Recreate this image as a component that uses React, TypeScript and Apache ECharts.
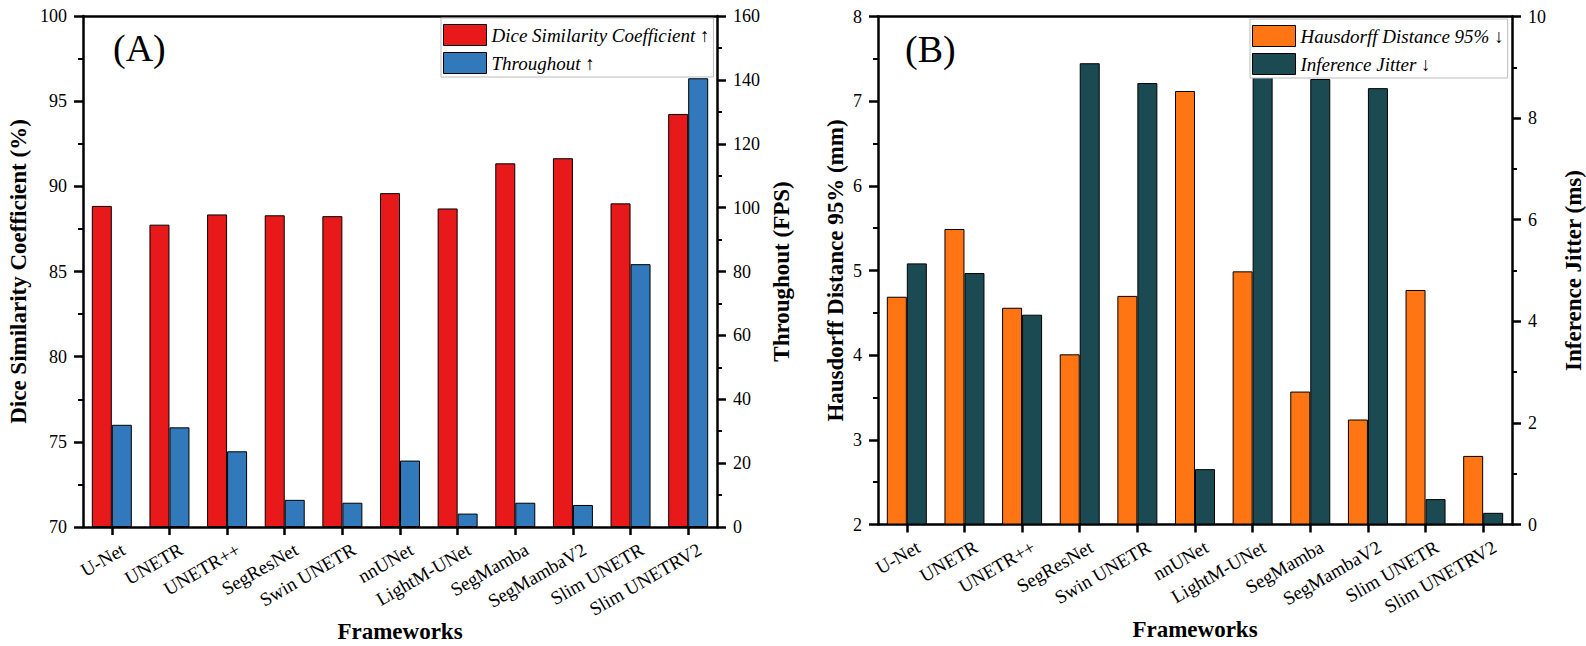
import React, { useEffect, useRef } from 'react';
import * as echarts from 'echarts';

const categories = ['U-Net', 'UNETR', 'UNETR++', 'SegResNet', 'Swin UNETR', 'nnUNet', 'LightM-UNet', 'SegMamba', 'SegMambaV2', 'Slim UNETR', 'Slim UNETRV2'];
const diceValues = [88.85, 87.75, 88.35, 88.3, 88.25, 89.6, 88.7, 91.35, 91.65, 89.0, 94.25];
const throughputValues = [32.0, 31.2, 23.7, 8.5, 7.6, 20.8, 4.2, 7.6, 6.9, 82.3, 140.5];
const hd95Values = [4.69, 5.49, 4.56, 4.01, 4.7, 7.12, 4.99, 3.57, 3.24, 4.77, 2.81];
const jitterValues = [5.14, 4.95, 4.13, 9.08, 8.69, 1.09, 8.9, 8.77, 8.59, 0.5, 0.23];

const diceName = 'Dice Similarity Coefficient ↑';
const fpsName = 'Throughout ↑';
const hdName = 'Hausdorff Distance 95% ↓';
const jitterName = 'Inference Jitter ↓';

const FONT = "'Liberation Serif', 'Times New Roman', serif";
const RED = '#E8191B';
const BLUE = '#3179BA';
const ORANGE = '#FF7514';
const TEAL = '#1B4A52';

const lineStyle = { color: '#000', width: 2.5 };

function xAxes(gridIndex: number) {
  return [
    {
      type: 'category',
      gridIndex,
      data: categories,
      axisLine: { show: true, lineStyle },
      axisTick: { show: true, alignWithLabel: true, length: 8, lineStyle: { color: '#000', width: 2.5 } },
      axisLabel: {
        interval: 0,
        rotate: 30,
        fontFamily: FONT,
        fontSize: 19,
        color: '#000',
        margin: 1,
        verticalAlign: 'top',
        lineHeight: 46,
      },
      name: 'Frameworks',
      nameLocation: 'middle',
      nameGap: 93,
      nameMoveOverlap: false,
      nameTextStyle: { fontFamily: FONT, fontSize: 23, fontWeight: 'bold', color: '#000' },
    },
    {
      type: 'category',
      gridIndex,
      position: 'top',
      data: categories,
      axisLine: { show: true, lineStyle },
      axisTick: { show: false },
      axisLabel: { show: false },
    },
  ];
}

function yAxis(gridIndex: number, position: string, min: number, max: number, interval: number, name: string, nameGap: number) {
  return {
    type: 'value',
    gridIndex,
    position,
    min,
    max,
    interval,
    startValue: min,
    splitLine: { show: false },
    axisLine: { show: true, lineStyle },
    axisTick: { show: true, inside: false, length: 9, lineStyle: { color: '#000', width: 2.5 } },
    minorTick: { show: true, splitNumber: 2, length: 5, lineStyle: { color: '#000', width: 2 } },
    axisLabel: { fontFamily: FONT, fontSize: 18, color: '#000', margin: 16 },
    name,
    nameLocation: 'middle',
    nameGap,
    nameRotate: 90,
    nameMoveOverlap: false,
    nameTextStyle: { fontFamily: FONT, fontSize: 23, fontWeight: 'bold', color: '#000' },
  };
}

function bar(name: string, data: number[], color: string, xAxisIndex: number, yAxisIndex: number) {
  return {
    type: 'bar',
    name,
    data,
    xAxisIndex,
    yAxisIndex,
    barWidth: 20,
    barGap: '0%',
    clip: true,
    itemStyle: { color, borderColor: '#000', borderWidth: 1 },
  };
}

function legend(names: string[], left: number, top: number) {
  return {
    data: names,
    left,
    top,
    orient: 'vertical',
    align: 'left',
    icon: 'rect',
    itemWidth: 43,
    itemHeight: 21,
    itemGap: 6,
    padding: [6, 4, 3, 2],
    backgroundColor: '#fff',
    borderColor: '#bbb',
    borderWidth: 1,
    z: 10,
    itemStyle: { borderColor: '#000', borderWidth: 1 },
    textStyle: { fontFamily: FONT, fontSize: 19, fontStyle: 'italic', color: '#000' },
  };
}

export default function App() {
  const ref = useRef<HTMLDivElement>(null);
  useEffect(() => {
    document.body.style.margin = '0';
    if (!ref.current) return;
    const chart = echarts.init(ref.current, undefined, { renderer: 'svg' });
    chart.setOption({
      animation: false,
      backgroundColor: '#fff',
      grid: [
        { left: 83, top: 16, width: 634, height: 511, outerBoundsMode: 'none', containLabel: false },
        { left: 878, top: 16.5, width: 634, height: 508, outerBoundsMode: 'none', containLabel: false },
      ],
      xAxis: [...xAxes(0), ...xAxes(1)],
      yAxis: [
        yAxis(0, 'left', 70, 100, 5, 'Dice Similarity Coefficient (%)', 53),
        yAxis(0, 'right', 0, 160, 20, 'Throughout (FPS)', 53),
        yAxis(1, 'left', 2, 8, 1, 'Hausdorff Distance 95% (mm)', 31),
        yAxis(1, 'right', 0, 10, 2, 'Inference Jitter (ms)', 50),
      ],
      legend: [legend([diceName, fpsName], 441, 18), legend([hdName, jitterName], 1250, 19)],
      series: [
        bar(diceName, diceValues, RED, 0, 0),
        bar(fpsName, throughputValues, BLUE, 0, 1),
        bar(hdName, hd95Values, ORANGE, 2, 2),
        bar(jitterName, jitterValues, TEAL, 2, 3),
      ],
      graphic: [
        { type: 'text', left: 113, top: 29, style: { text: '(A)', font: `38px ${FONT}`, fill: '#000' } },
        { type: 'text', left: 905, top: 30, style: { text: '(B)', font: `38px ${FONT}`, fill: '#000' } },
      ],
    });
    return () => chart.dispose();
  }, []);
  return <div ref={ref} style={{ position: 'fixed', left: 0, top: 0, width: 1586, height: 646 }} />;
}
